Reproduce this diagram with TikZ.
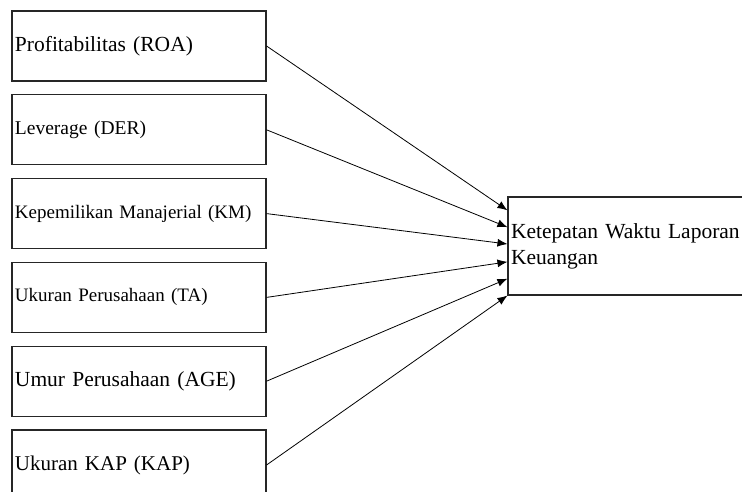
\documentclass[tikz,border=0pt]{standalone}
\usepackage{fontspec}
\setmainfont{Liberation Serif}
\usetikzlibrary{arrows.meta,calc}
\begin{document}
\begin{tikzpicture}[x=1pt,y=-1pt,
    kotak/.style={draw=black!85, line width=1.1pt, rectangle, inner sep=3pt,
        minimum width=254pt, minimum height=70pt, text width=248pt, align=left},
    panah/.style={black, line width=0.8pt, -{Latex[length=10pt,width=8pt]}}]
    \clip (0,0) rectangle (742,492);
    \fill[white] (0,0) rectangle (742,492);
    % variabel independen
    \foreach \n/\y/\s/\teks in {roa/46/21.5/Profitabilitas (ROA), der/129.8/19.5/Leverage (DER),
        km/213.6/19/Kepemilikan Manajerial (KM), ta/297.4/19/Ukuran Perusahaan (TA),
        age/381.2/21.5/Umur Perusahaan (AGE), kap/465/21/Ukuran KAP (KAP)} {
            \node[kotak, font=\fontsize{\s}{26}\selectfont] (\n) at (139,\y) {\teks};
        }
    % variabel dependen
    \node[kotak, minimum width=262pt, minimum height=98pt, text width=256pt,
        font=\fontsize{21.5}{26}\selectfont] (ktw) at (639,246)
        {Ketepatan Waktu Laporan\\Keuangan};
    \foreach \n/\f in {roa/0.14, der/0.31, km/0.48, ta/0.66, age/0.83, kap/1} {
            \coordinate (ke-\n) at ($(ktw.north west)!\f!(ktw.south west)$);
            \draw[panah] (\n.east) -- (ke-\n);
        }
\end{tikzpicture}
\end{document}
